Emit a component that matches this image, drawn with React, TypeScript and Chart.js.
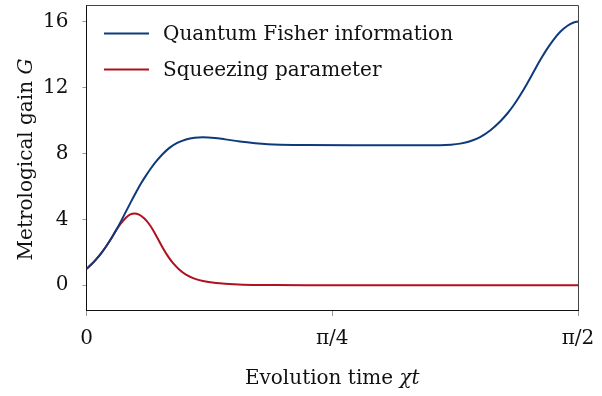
import React, { useEffect, useRef } from "react";
import { Chart, registerables } from "chart.js";

Chart.register(...registerables);

const HALF_PI = Math.PI / 2;

// Quantum Fisher information (x in radians, gain)
const qfiX = [0, 0.015, 0.03, 0.046, 0.062, 0.078, 0.094, 0.11, 0.126, 0.142, 0.158, 0.174, 0.19, 0.206, 0.222, 0.243, 0.265, 0.29, 0.318, 0.345, 0.372, 0.41, 0.443, 0.49, 0.539, 0.58, 0.62, 0.7, 0.85, 1.0, 1.13, 1.165, 1.194, 1.226, 1.258, 1.29, 1.322, 1.345, 1.365, 1.387, 1.408, 1.43, 1.45, 1.472, 1.493, 1.515, 1.536, 1.555, 1.5708];
const qfiY = [1.0, 1.255, 1.555, 1.923, 2.339, 2.803, 3.315, 3.875, 4.467, 5.059, 5.627, 6.171, 6.651, 7.099, 7.499, 7.95, 8.335, 8.635, 8.845, 8.953, 8.985, 8.94, 8.85, 8.72, 8.62, 8.56, 8.53, 8.505, 8.5, 8.5, 8.5, 8.528, 8.592, 8.736, 8.992, 9.392, 9.936, 10.419, 10.919, 11.557, 12.229, 12.977, 13.657, 14.339, 14.906, 15.39, 15.726, 15.926, 16.0];

// Squeezing parameter
const sqX = [0, 0.015, 0.03, 0.046, 0.062, 0.078, 0.094, 0.11, 0.126, 0.14, 0.153, 0.168, 0.185, 0.2, 0.212, 0.228, 0.244, 0.26, 0.276, 0.297, 0.318, 0.345, 0.372, 0.414, 0.443, 0.5, 0.6, 0.7, 1.0, 1.3, 1.5708];
const sqY = [1.0, 1.255, 1.555, 1.923, 2.339, 2.803, 3.315, 3.747, 4.099, 4.295, 4.36, 4.285, 4.047, 3.717, 3.369, 2.825, 2.265, 1.769, 1.353, 0.943, 0.649, 0.406, 0.258, 0.132, 0.086, 0.035, 0.01, 0.0, 0.0, 0.0, 0.0];

const yTicks = [0, 4, 8, 12, 16];
const xTicks = [0, Math.PI / 4, HALF_PI];
const xTickLabels = ["0", "π/4", "π/2"];

const seriesLabels = ["Quantum Fisher information", "Squeezing parameter"];
const seriesColors = ["#0e3a7c", "#b0101f"];

const FONT = "'DejaVu Serif', 'Liberation Serif', serif";
const FS = 20;

const framePlugin = {
  id: "frameAndLabels",
  afterDraw(chart: any) {
    const { ctx, chartArea } = chart;
    const { left, right, top, bottom } = chartArea;
    ctx.save();
    // top & right frame
    ctx.strokeStyle = "#444";
    ctx.lineWidth = 1;
    ctx.beginPath();
    ctx.moveTo(left, top + 0.5);
    ctx.lineTo(right + 0.5, top + 0.5);
    ctx.lineTo(right + 0.5, bottom);
    ctx.stroke();

    // legend
    const legendLeft = 104;
    const legendLineLen = 45;
    const legendY = [33.5, 69.5];
    ctx.font = `${FS}px ${FONT}`;
    ctx.textBaseline = "middle";
    ctx.textAlign = "left";
    chart.data.datasets.forEach((ds: any, i: number) => {
      ctx.strokeStyle = ds.borderColor;
      ctx.lineWidth = 2;
      ctx.beginPath();
      ctx.moveTo(legendLeft, legendY[i]);
      ctx.lineTo(legendLeft + legendLineLen, legendY[i]);
      ctx.stroke();
      ctx.fillStyle = "#111";
      ctx.fillText(ds.label, 163, legendY[i] + 1);
    });

    // x title: "Evolution time χt"
    const xa = "Evolution time ";
    const xb = "χt";
    ctx.font = `${FS}px ${FONT}`;
    const wa = ctx.measureText(xa).width;
    ctx.font = `italic ${FS}px ${FONT}`;
    const wb = ctx.measureText(xb).width;
    const cx = (left + right) / 2;
    const sx = cx - (wa + wb) / 2;
    ctx.textBaseline = "alphabetic";
    ctx.fillStyle = "#111";
    ctx.font = `${FS}px ${FONT}`;
    ctx.fillText(xa, sx, 384);
    ctx.font = `italic ${FS}px ${FONT}`;
    ctx.fillText(xb, sx + wa, 384);

    // y title: "Metrological gain G"
    const ya = "Metrological gain ";
    const yb = "G";
    ctx.font = `${FS}px ${FONT}`;
    const ha = ctx.measureText(ya).width;
    ctx.font = `italic ${FS}px ${FONT}`;
    const hb = ctx.measureText(yb).width;
    ctx.translate(32, (top + bottom) / 2 + 2);
    ctx.rotate(-Math.PI / 2);
    const sy = -(ha + hb) / 2;
    ctx.font = `${FS}px ${FONT}`;
    ctx.fillText(ya, sy, 0);
    ctx.font = `italic ${FS}px ${FONT}`;
    ctx.fillText(yb, sy + ha, 0);
    ctx.restore();
  },
};

export default function App() {
  const ref = useRef<HTMLCanvasElement | null>(null);

  useEffect(() => {
    if (!ref.current) return;
    const chart = new Chart(ref.current, {
      type: "line",
      data: {
        datasets: [
          {
            label: seriesLabels[0],
            data: qfiX.map((x, i) => ({ x, y: qfiY[i] })),
            borderColor: seriesColors[0],
            borderWidth: 2,
            pointRadius: 0,
            cubicInterpolationMode: "monotone",
            fill: false,
          },
          {
            label: seriesLabels[1],
            data: sqX.map((x, i) => ({ x, y: sqY[i] })),
            borderColor: seriesColors[1],
            borderWidth: 2,
            pointRadius: 0,
            cubicInterpolationMode: "monotone",
            fill: false,
          },
        ],
      },
      options: {
        animation: false,
        responsive: false,
        maintainAspectRatio: false,
        devicePixelRatio: 1,
        layout: { padding: { left: 0, right: 24, top: 5, bottom: 0 } },
        plugins: {
          legend: { display: false },
          tooltip: { enabled: false },
        },
        scales: {
          x: {
            type: "linear",
            min: 0,
            max: HALF_PI,
            afterBuildTicks: (scale: any) => {
              scale.ticks = xTicks.map((v) => ({ value: v }));
            },
            afterFit: (scale: any) => {
              scale.height = 86;
              scale.paddingLeft = 0;
              scale.paddingRight = 0;
            },
            ticks: {
              callback: (_v: any, i: number) => xTickLabels[i],
              font: { family: FONT, size: FS },
              color: "#111",
              padding: 11,
              maxRotation: 0,
              autoSkip: false,
            },
            grid: {
              display: true,
              drawOnChartArea: false,
              drawTicks: true,
              tickLength: 6,
              color: "#999",
            },
            border: { display: true, color: "#111", width: 1 },
          },
          y: {
            type: "linear",
            min: -1.5,
            max: 17,
            afterBuildTicks: (scale: any) => {
              scale.ticks = yTicks.map((v) => ({ value: v }));
            },
            afterFit: (scale: any) => {
              scale.width = 86.5;
              scale.paddingTop = 0;
              scale.paddingBottom = 0;
            },
            ticks: {
              font: { family: FONT, size: FS },
              color: "#111",
              padding: 14,
              autoSkip: false,
            },
            grid: {
              display: true,
              drawOnChartArea: false,
              drawTicks: true,
              tickLength: 4,
              color: "#999",
            },
            border: { display: true, color: "#111", width: 1 },
          },
        },
      },
      plugins: [framePlugin],
    } as any);
    return () => chart.destroy();
  }, []);

  return (
    <div style={{ position: "fixed", left: 0, top: 0, width: 602, height: 396, background: "#fff" }}>
      <canvas ref={ref} width={602} height={396} style={{ width: 602, height: 396, display: "block" }} />
    </div>
  );
}
